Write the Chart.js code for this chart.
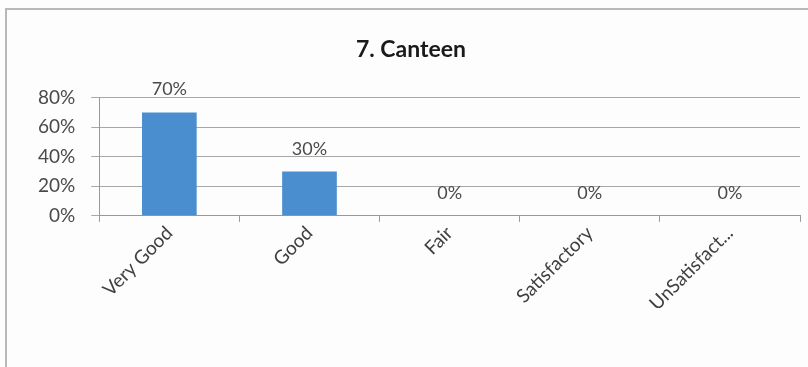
<!DOCTYPE html>
<html lang="en">
<head>
  <meta charset="UTF-8" />
  <title>7. Canteen</title>
  <style>
    body {
      margin: 0;
      background-color: #fdfdfd;
      font-family: Lato, 'Open Sans', sans-serif;
    }

    .frame {
      position: absolute;
      left: 5px;
      top: 8px;
      width: 820px;
      height: 380px;
      border-left: 2px solid #b8b8b8;
      border-top: 2px solid #b8b8b8;
    }

    .chart-box {
      position: absolute;
      left: 0;
      top: 0;
      width: 808px;
      height: 367px;
    }
  </style>
</head>
<body>
  <div class="frame"></div>
  <div class="chart-box">
    <canvas id="canteenChart"></canvas>
  </div>

  <script src="https://cdn.jsdelivr.net/npm/chart.js"></script>
  <script>
    const categories = ['Very Good', 'Good', 'Fair', 'Satisfactory', 'UnSatisfact...'];
    const percentages = [70, 30, 0, 0, 0];
    const yTicks = [0, 20, 40, 60, 80];

    // Draw "70%" style labels above each bar
    const barLabels = {
      id: 'barLabels',
      afterDatasetsDraw(chart) {
        const c = chart.ctx;
        const meta = chart.getDatasetMeta(0);
        c.save();
        c.font = '18px Lato, sans-serif';
        c.fillStyle = '#4a4a4a';
        c.textAlign = 'center';
        c.textBaseline = 'alphabetic';
        meta.data.forEach((bar, i) => {
          c.fillText(percentages[i] + '%', bar.x, bar.y - 17);
        });
        c.restore();
      }
    };

    const ctx = document.getElementById('canteenChart').getContext('2d');
    new Chart(ctx, {
      type: 'bar',
      data: {
        labels: categories,
        datasets: [{
          data: percentages,
          backgroundColor: '#4a8ecf',
          categoryPercentage: 1,
          barPercentage: 0.39
        }]
      },
      options: {
        responsive: true,
        maintainAspectRatio: false,
        animation: false,
        layout: {
          padding: { left: 22, right: 8, top: 0, bottom: 52 }
        },
        plugins: {
          legend: { display: false },
          tooltip: { enabled: false },
          title: {
            display: true,
            text: '7. Canteen',
            color: '#1a1a1a',
            font: { size: 23, weight: 'bold', family: 'Lato, sans-serif' },
            padding: { top: 36, bottom: 34 }
          }
        },
        scales: {
          x: {
            grid: {
              drawOnChartArea: false,
              drawTicks: true,
              tickLength: 6,
              color: '#999999'
            },
            border: { color: '#999999' },
            ticks: {
              minRotation: 45,
              maxRotation: 45,
              padding: 0,
              color: '#404040',
              font: { size: 19, family: 'Lato, sans-serif' }
            }
          },
          y: {
            min: 0,
            max: 80,
            afterBuildTicks(axis) {
              axis.ticks = yTicks.map(v => ({ value: v }));
            },
            grid: {
              color: '#a8a8a8',
              tickLength: 8
            },
            border: { color: '#999999' },
            ticks: {
              color: '#4a4a4a',
              padding: 16,
              font: { size: 19, family: 'Lato, sans-serif' },
              callback: v => v + '%'
            }
          }
        }
      },
      plugins: [barLabels]
    });
  </script>
</body>
</html>
